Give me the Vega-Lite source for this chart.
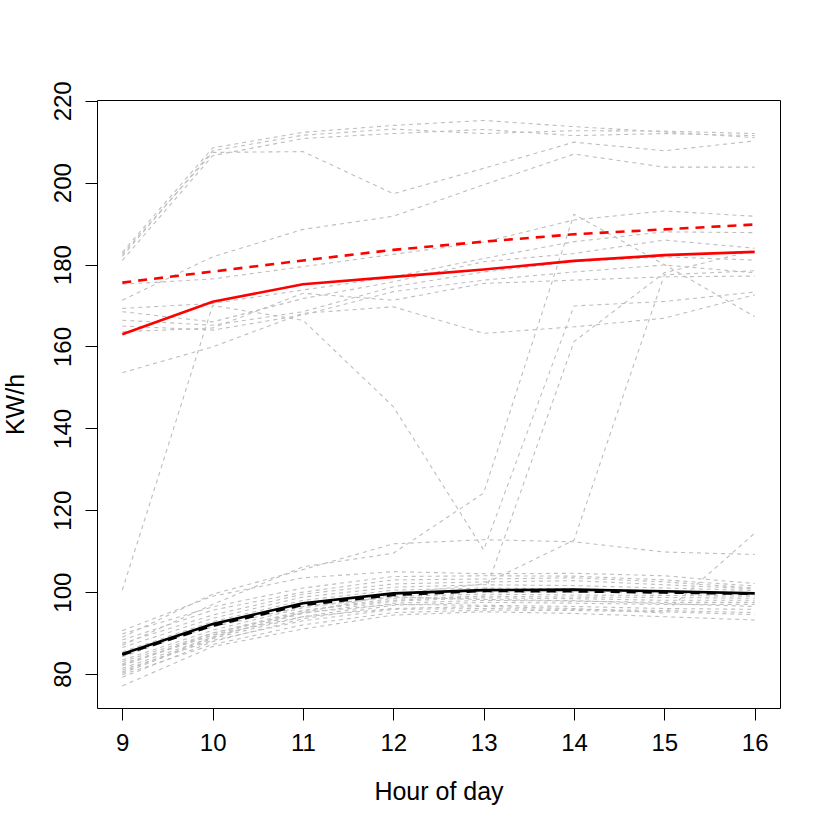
{
"$schema": "https://vega.github.io/schema/vega-lite/v6.json",
"width": 683,
"height": 608,
"autosize": {"type": "none"},
"padding": {"left": 97, "top": 100, "right": 50, "bottom": 122},
"background": "white",
"config": {"view": {"stroke": "black", "strokeWidth": 1}, "font": "Liberation Sans"},
"datasets": {
"series": [
{"s":"A","g":"grey","h":9,"v":183.0},{"s":"A","g":"grey","h":10,"v":208.5},{"s":"A","g":"grey","h":11,"v":212.3},{"s":"A","g":"grey","h":12,"v":214.0},{"s":"A","g":"grey","h":13,"v":215.2},{"s":"A","g":"grey","h":14,"v":213.7},{"s":"A","g":"grey","h":15,"v":212.4},{"s":"A","g":"grey","h":16,"v":211.0},
{"s":"B","g":"grey","h":9,"v":182.0},{"s":"B","g":"grey","h":10,"v":207.8},{"s":"B","g":"grey","h":11,"v":211.6},{"s":"B","g":"grey","h":12,"v":213.1},{"s":"B","g":"grey","h":13,"v":212.0},{"s":"B","g":"grey","h":14,"v":212.7},{"s":"B","g":"grey","h":15,"v":212.6},{"s":"B","g":"grey","h":16,"v":212.0},
{"s":"C","g":"grey","h":9,"v":181.0},{"s":"C","g":"grey","h":10,"v":206.6},{"s":"C","g":"grey","h":11,"v":210.8},{"s":"C","g":"grey","h":12,"v":212.0},{"s":"C","g":"grey","h":13,"v":213.0},{"s":"C","g":"grey","h":14,"v":211.5},{"s":"C","g":"grey","h":15,"v":212.0},{"s":"C","g":"grey","h":16,"v":211.5},
{"s":"D","g":"grey","h":9,"v":182.5},{"s":"D","g":"grey","h":10,"v":207.4},{"s":"D","g":"grey","h":11,"v":207.6},{"s":"D","g":"grey","h":12,"v":197.3},{"s":"D","g":"grey","h":13,"v":203.5},{"s":"D","g":"grey","h":14,"v":209.9},{"s":"D","g":"grey","h":15,"v":207.8},{"s":"D","g":"grey","h":16,"v":210.2},
{"s":"E","g":"grey","h":9,"v":171.3},{"s":"E","g":"grey","h":10,"v":181.9},{"s":"E","g":"grey","h":11,"v":188.6},{"s":"E","g":"grey","h":12,"v":191.8},{"s":"E","g":"grey","h":13,"v":199.5},{"s":"E","g":"grey","h":14,"v":207.0},{"s":"E","g":"grey","h":15,"v":203.8},{"s":"E","g":"grey","h":16,"v":203.8},
{"s":"F","g":"grey","h":9,"v":175.2},{"s":"F","g":"grey","h":10,"v":176.5},{"s":"F","g":"grey","h":11,"v":179.5},{"s":"F","g":"grey","h":12,"v":182.5},{"s":"F","g":"grey","h":13,"v":185.5},{"s":"F","g":"grey","h":14,"v":190.9},{"s":"F","g":"grey","h":15,"v":193.1},{"s":"F","g":"grey","h":16,"v":191.8},
{"s":"L1","g":"grey","h":9,"v":169.3},{"s":"L1","g":"grey","h":10,"v":170.5},{"s":"L1","g":"grey","h":11,"v":173.8},{"s":"L1","g":"grey","h":12,"v":177.0},{"s":"L1","g":"grey","h":13,"v":181.5},{"s":"L1","g":"grey","h":14,"v":185.6},{"s":"L1","g":"grey","h":15,"v":188.0},{"s":"L1","g":"grey","h":16,"v":187.8},
{"s":"L2","g":"grey","h":9,"v":168.5},{"s":"L2","g":"grey","h":10,"v":166.0},{"s":"L2","g":"grey","h":11,"v":171.7},{"s":"L2","g":"grey","h":12,"v":175.8},{"s":"L2","g":"grey","h":13,"v":180.7},{"s":"L2","g":"grey","h":14,"v":182.7},{"s":"L2","g":"grey","h":15,"v":186.0},{"s":"L2","g":"grey","h":16,"v":184.0},
{"s":"L3","g":"grey","h":9,"v":166.4},{"s":"L3","g":"grey","h":10,"v":165.2},{"s":"L3","g":"grey","h":11,"v":168.5},{"s":"L3","g":"grey","h":12,"v":174.6},{"s":"L3","g":"grey","h":13,"v":178.2},{"s":"L3","g":"grey","h":14,"v":180.7},{"s":"L3","g":"grey","h":15,"v":181.9},{"s":"L3","g":"grey","h":16,"v":181.1},
{"s":"L4","g":"grey","h":9,"v":165.0},{"s":"L4","g":"grey","h":10,"v":164.0},{"s":"L4","g":"grey","h":11,"v":167.7},{"s":"L4","g":"grey","h":12,"v":173.4},{"s":"L4","g":"grey","h":13,"v":176.2},{"s":"L4","g":"grey","h":14,"v":178.2},{"s":"L4","g":"grey","h":15,"v":179.9},{"s":"L4","g":"grey","h":16,"v":178.0},
{"s":"L5","g":"grey","h":9,"v":163.6},{"s":"L5","g":"grey","h":10,"v":164.5},{"s":"L5","g":"grey","h":11,"v":173.0},{"s":"L5","g":"grey","h":12,"v":171.3},{"s":"L5","g":"grey","h":13,"v":175.4},{"s":"L5","g":"grey","h":14,"v":176.2},{"s":"L5","g":"grey","h":15,"v":177.0},{"s":"L5","g":"grey","h":16,"v":177.2},
{"s":"J","g":"grey","h":9,"v":153.6},{"s":"J","g":"grey","h":10,"v":159.9},{"s":"J","g":"grey","h":11,"v":168.1},{"s":"J","g":"grey","h":12,"v":169.7},{"s":"J","g":"grey","h":13,"v":163.2},{"s":"J","g":"grey","h":14,"v":164.8},{"s":"J","g":"grey","h":15,"v":166.9},{"s":"J","g":"grey","h":16,"v":172.6},
{"s":"H","g":"grey","h":9,"v":100.5},{"s":"H","g":"grey","h":10,"v":170.0},{"s":"H","g":"grey","h":11,"v":166.4},{"s":"H","g":"grey","h":12,"v":145.3},{"s":"H","g":"grey","h":13,"v":110.3},{"s":"H","g":"grey","h":14,"v":169.9},{"s":"H","g":"grey","h":15,"v":171.0},{"s":"H","g":"grey","h":16,"v":173.3},
{"s":"K","g":"grey","h":9,"v":87.0},{"s":"K","g":"grey","h":10,"v":97.0},{"s":"K","g":"grey","h":11,"v":106.2},{"s":"K","g":"grey","h":12,"v":109.5},{"s":"K","g":"grey","h":13,"v":124.2},{"s":"K","g":"grey","h":14,"v":192.3},{"s":"K","g":"grey","h":15,"v":180.0},{"s":"K","g":"grey","h":16,"v":167.3},
{"s":"e","g":"grey","h":9,"v":89.0},{"s":"e","g":"grey","h":10,"v":99.5},{"s":"e","g":"grey","h":11,"v":105.5},{"s":"e","g":"grey","h":12,"v":111.8},{"s":"e","g":"grey","h":13,"v":112.8},{"s":"e","g":"grey","h":14,"v":112.3},{"s":"e","g":"grey","h":15,"v":109.8},{"s":"e","g":"grey","h":16,"v":109.2},
{"s":"c","g":"grey","h":9,"v":82.0},{"s":"c","g":"grey","h":10,"v":90.0},{"s":"c","g":"grey","h":11,"v":95.5},{"s":"c","g":"grey","h":12,"v":98.0},{"s":"c","g":"grey","h":13,"v":99.0},{"s":"c","g":"grey","h":14,"v":161.2},{"s":"c","g":"grey","h":15,"v":178.0},{"s":"c","g":"grey","h":16,"v":183.5},
{"s":"d","g":"grey","h":9,"v":80.5},{"s":"d","g":"grey","h":10,"v":89.0},{"s":"d","g":"grey","h":11,"v":95.0},{"s":"d","g":"grey","h":12,"v":99.5},{"s":"d","g":"grey","h":13,"v":102.0},{"s":"d","g":"grey","h":14,"v":112.7},{"s":"d","g":"grey","h":15,"v":177.5},{"s":"d","g":"grey","h":16,"v":178.5},
{"s":"f","g":"grey","h":9,"v":82.5},{"s":"f","g":"grey","h":10,"v":89.5},{"s":"f","g":"grey","h":11,"v":94.0},{"s":"f","g":"grey","h":12,"v":96.0},{"s":"f","g":"grey","h":13,"v":96.5},{"s":"f","g":"grey","h":14,"v":96.0},{"s":"f","g":"grey","h":15,"v":94.9},{"s":"f","g":"grey","h":16,"v":114.4},
{"s":"B1","g":"grey","h":9,"v":90.6},{"s":"B1","g":"grey","h":10,"v":99.0},{"s":"B1","g":"grey","h":11,"v":103.5},{"s":"B1","g":"grey","h":12,"v":105.0},{"s":"B1","g":"grey","h":13,"v":104.5},{"s":"B1","g":"grey","h":14,"v":104.6},{"s":"B1","g":"grey","h":15,"v":104.0},{"s":"B1","g":"grey","h":16,"v":102.1},
{"s":"B2","g":"grey","h":9,"v":89.8},{"s":"B2","g":"grey","h":10,"v":96.4},{"s":"B2","g":"grey","h":11,"v":101.0},{"s":"B2","g":"grey","h":12,"v":103.8},{"s":"B2","g":"grey","h":13,"v":104.0},{"s":"B2","g":"grey","h":14,"v":103.9},{"s":"B2","g":"grey","h":15,"v":103.0},{"s":"B2","g":"grey","h":16,"v":101.5},
{"s":"B3","g":"grey","h":9,"v":88.3},{"s":"B3","g":"grey","h":10,"v":95.6},{"s":"B3","g":"grey","h":11,"v":100.0},{"s":"B3","g":"grey","h":12,"v":103.0},{"s":"B3","g":"grey","h":13,"v":103.2},{"s":"B3","g":"grey","h":14,"v":103.5},{"s":"B3","g":"grey","h":15,"v":102.5},{"s":"B3","g":"grey","h":16,"v":101.0},
{"s":"B4","g":"grey","h":9,"v":87.5},{"s":"B4","g":"grey","h":10,"v":94.4},{"s":"B4","g":"grey","h":11,"v":99.5},{"s":"B4","g":"grey","h":12,"v":102.0},{"s":"B4","g":"grey","h":13,"v":102.5},{"s":"B4","g":"grey","h":14,"v":102.8},{"s":"B4","g":"grey","h":15,"v":101.8},{"s":"B4","g":"grey","h":16,"v":100.8},
{"s":"B5","g":"grey","h":9,"v":86.5},{"s":"B5","g":"grey","h":10,"v":93.6},{"s":"B5","g":"grey","h":11,"v":98.8},{"s":"B5","g":"grey","h":12,"v":101.2},{"s":"B5","g":"grey","h":13,"v":101.8},{"s":"B5","g":"grey","h":14,"v":101.6},{"s":"B5","g":"grey","h":15,"v":101.0},{"s":"B5","g":"grey","h":16,"v":100.4},
{"s":"B6","g":"grey","h":9,"v":85.4},{"s":"B6","g":"grey","h":10,"v":92.8},{"s":"B6","g":"grey","h":11,"v":98.0},{"s":"B6","g":"grey","h":12,"v":100.5},{"s":"B6","g":"grey","h":13,"v":101.0},{"s":"B6","g":"grey","h":14,"v":100.8},{"s":"B6","g":"grey","h":15,"v":100.3},{"s":"B6","g":"grey","h":16,"v":99.9},
{"s":"B7","g":"grey","h":9,"v":84.2},{"s":"B7","g":"grey","h":10,"v":91.9},{"s":"B7","g":"grey","h":11,"v":97.2},{"s":"B7","g":"grey","h":12,"v":99.6},{"s":"B7","g":"grey","h":13,"v":100.0},{"s":"B7","g":"grey","h":14,"v":100.0},{"s":"B7","g":"grey","h":15,"v":99.8},{"s":"B7","g":"grey","h":16,"v":99.3},
{"s":"B8","g":"grey","h":9,"v":83.4},{"s":"B8","g":"grey","h":10,"v":90.7},{"s":"B8","g":"grey","h":11,"v":96.2},{"s":"B8","g":"grey","h":12,"v":99.0},{"s":"B8","g":"grey","h":13,"v":99.5},{"s":"B8","g":"grey","h":14,"v":99.3},{"s":"B8","g":"grey","h":15,"v":99.2},{"s":"B8","g":"grey","h":16,"v":99.0},
{"s":"B9","g":"grey","h":9,"v":82.2},{"s":"B9","g":"grey","h":10,"v":89.5},{"s":"B9","g":"grey","h":11,"v":95.5},{"s":"B9","g":"grey","h":12,"v":98.5},{"s":"B9","g":"grey","h":13,"v":99.0},{"s":"B9","g":"grey","h":14,"v":98.8},{"s":"B9","g":"grey","h":15,"v":98.7},{"s":"B9","g":"grey","h":16,"v":98.5},
{"s":"B10","g":"grey","h":9,"v":81.4},{"s":"B10","g":"grey","h":10,"v":89.0},{"s":"B10","g":"grey","h":11,"v":94.8},{"s":"B10","g":"grey","h":12,"v":97.8},{"s":"B10","g":"grey","h":13,"v":98.6},{"s":"B10","g":"grey","h":14,"v":98.4},{"s":"B10","g":"grey","h":15,"v":98.0},{"s":"B10","g":"grey","h":16,"v":98.0},
{"s":"B11","g":"grey","h":9,"v":80.2},{"s":"B11","g":"grey","h":10,"v":88.7},{"s":"B11","g":"grey","h":11,"v":94.0},{"s":"B11","g":"grey","h":12,"v":97.3},{"s":"B11","g":"grey","h":13,"v":98.0},{"s":"B11","g":"grey","h":14,"v":97.8},{"s":"B11","g":"grey","h":15,"v":97.5},{"s":"B11","g":"grey","h":16,"v":97.5},
{"s":"B12","g":"grey","h":9,"v":79.2},{"s":"B12","g":"grey","h":10,"v":87.9},{"s":"B12","g":"grey","h":11,"v":93.5},{"s":"B12","g":"grey","h":12,"v":96.8},{"s":"B12","g":"grey","h":13,"v":97.5},{"s":"B12","g":"grey","h":14,"v":97.3},{"s":"B12","g":"grey","h":15,"v":97.0},{"s":"B12","g":"grey","h":16,"v":97.0},
{"s":"B13","g":"grey","h":9,"v":77.1},{"s":"B13","g":"grey","h":10,"v":86.7},{"s":"B13","g":"grey","h":11,"v":91.0},{"s":"B13","g":"grey","h":12,"v":94.4},{"s":"B13","g":"grey","h":13,"v":95.2},{"s":"B13","g":"grey","h":14,"v":94.8},{"s":"B13","g":"grey","h":15,"v":94.0},{"s":"B13","g":"grey","h":16,"v":93.2},
{"s":"B14","g":"grey","h":9,"v":85.0},{"s":"B14","g":"grey","h":10,"v":91.5},{"s":"B14","g":"grey","h":11,"v":96.5},{"s":"B14","g":"grey","h":12,"v":98.8},{"s":"B14","g":"grey","h":13,"v":98.2},{"s":"B14","g":"grey","h":14,"v":97.9},{"s":"B14","g":"grey","h":15,"v":97.2},{"s":"B14","g":"grey","h":16,"v":96.5},
{"s":"B15","g":"grey","h":9,"v":83.0},{"s":"B15","g":"grey","h":10,"v":90.0},{"s":"B15","g":"grey","h":11,"v":95.0},{"s":"B15","g":"grey","h":12,"v":97.0},{"s":"B15","g":"grey","h":13,"v":96.8},{"s":"B15","g":"grey","h":14,"v":96.5},{"s":"B15","g":"grey","h":15,"v":96.0},{"s":"B15","g":"grey","h":16,"v":95.8},
{"s":"B16","g":"grey","h":9,"v":81.0},{"s":"B16","g":"grey","h":10,"v":88.2},{"s":"B16","g":"grey","h":11,"v":93.0},{"s":"B16","g":"grey","h":12,"v":95.8},{"s":"B16","g":"grey","h":13,"v":96.0},{"s":"B16","g":"grey","h":14,"v":95.8},{"s":"B16","g":"grey","h":15,"v":95.5},{"s":"B16","g":"grey","h":16,"v":95.0},
{"s":"B17","g":"grey","h":9,"v":79.8},{"s":"B17","g":"grey","h":10,"v":87.2},{"s":"B17","g":"grey","h":11,"v":92.0},{"s":"B17","g":"grey","h":12,"v":95.0},{"s":"B17","g":"grey","h":13,"v":95.6},{"s":"B17","g":"grey","h":14,"v":95.5},{"s":"B17","g":"grey","h":15,"v":95.2},{"s":"B17","g":"grey","h":16,"v":94.5},
{"s":"blackSolid","g":"black","h":9,"v":84.9},{"s":"blackSolid","g":"black","h":10,"v":92.2},{"s":"blackSolid","g":"black","h":11,"v":97.3},{"s":"blackSolid","g":"black","h":12,"v":99.7},{"s":"blackSolid","g":"black","h":13,"v":100.5},{"s":"blackSolid","g":"black","h":14,"v":100.6},{"s":"blackSolid","g":"black","h":15,"v":100.2},{"s":"blackSolid","g":"black","h":16,"v":99.7},
{"s":"blackDash","g":"blackdash","h":9,"v":84.7},{"s":"blackDash","g":"blackdash","h":10,"v":91.8},{"s":"blackDash","g":"blackdash","h":11,"v":96.9},{"s":"blackDash","g":"blackdash","h":12,"v":99.3},{"s":"blackDash","g":"blackdash","h":13,"v":100.3},{"s":"blackDash","g":"blackdash","h":14,"v":100.2},{"s":"blackDash","g":"blackdash","h":15,"v":99.9},{"s":"blackDash","g":"blackdash","h":16,"v":99.6},
{"s":"redSolid","g":"red","h":9,"v":163.0},{"s":"redSolid","g":"red","h":10,"v":170.9},{"s":"redSolid","g":"red","h":11,"v":175.2},{"s":"redSolid","g":"red","h":12,"v":177.0},{"s":"redSolid","g":"red","h":13,"v":178.8},{"s":"redSolid","g":"red","h":14,"v":180.9},{"s":"redSolid","g":"red","h":15,"v":182.3},{"s":"redSolid","g":"red","h":16,"v":183.1},
{"s":"redDash","g":"reddash","h":9,"v":175.6},{"s":"redDash","g":"reddash","h":10,"v":178.3},{"s":"redDash","g":"reddash","h":11,"v":181.0},{"s":"redDash","g":"reddash","h":12,"v":183.6},{"s":"redDash","g":"reddash","h":13,"v":185.6},{"s":"redDash","g":"reddash","h":14,"v":187.4},{"s":"redDash","g":"reddash","h":15,"v":188.6},{"s":"redDash","g":"reddash","h":16,"v":189.8}
]
},
"data": {"name": "series"},
"encoding": {
  "x": {"field": "h", "type": "quantitative",
        "scale": {"domain": [8.72, 16.28], "nice": false, "zero": false},
        "axis": {"values": [9,10,11,12,13,14,15,16], "title": "Hour of day", "grid": false, "domain": false,
                 "tickSize": 12, "tickColor": "black", "tickWidth": 1, "labelColor": "black", "labelFontSize": 24,
                 "labelPadding": 11, "labelFont": "Liberation Sans", "labelFlush": false, "labelOverlap": false,
                 "titleFont": "Liberation Sans", "titleFontSize": 25, "titleFontWeight": "normal", "titleColor": "black",
                 "titleY": 91, "titleBaseline": "alphabetic"}},
  "y": {"field": "v", "type": "quantitative",
        "scale": {"domain": [71.7, 220.2], "nice": false, "zero": false},
        "axis": {"values": [80,100,120,140,160,180,200,220], "title": "KW/h", "grid": false, "domain": false,
                 "tickSize": 12, "tickColor": "black", "tickWidth": 1, "labelColor": "black", "labelFontSize": 24,
                 "labelPadding": 15, "labelFont": "Liberation Sans", "labelAngle": 270, "labelAlign": "center",
                 "labelBaseline": "alphabetic", "labelFlush": false, "labelOverlap": false,
                 "titleFont": "Liberation Sans", "titleFontSize": 25, "titleFontWeight": "normal", "titleColor": "black",
                 "titleAngle": 270, "titleX": -74, "titleBaseline": "alphabetic"}},
  "detail": {"field": "s", "type": "nominal"}
},
"layer": [
  {"transform": [{"filter": {"field": "g", "equal": "grey"}}],
   "mark": {"type": "line", "color": "#BEBEBE", "strokeWidth": 1.1, "strokeDash": [4, 4]}},
  {"transform": [{"filter": {"field": "g", "equal": "black"}}],
   "mark": {"type": "line", "color": "#000000", "strokeWidth": 2.6}},
  {"transform": [{"filter": {"field": "g", "equal": "blackdash"}}],
   "mark": {"type": "line", "color": "#000000", "strokeWidth": 2.6, "strokeDash": [9, 7]}},
  {"transform": [{"filter": {"field": "g", "equal": "red"}}],
   "mark": {"type": "line", "color": "#FF0000", "strokeWidth": 2.6}},
  {"transform": [{"filter": {"field": "g", "equal": "reddash"}}],
   "mark": {"type": "line", "color": "#FF0000", "strokeWidth": 2.6, "strokeDash": [9, 7]}}
]
}
